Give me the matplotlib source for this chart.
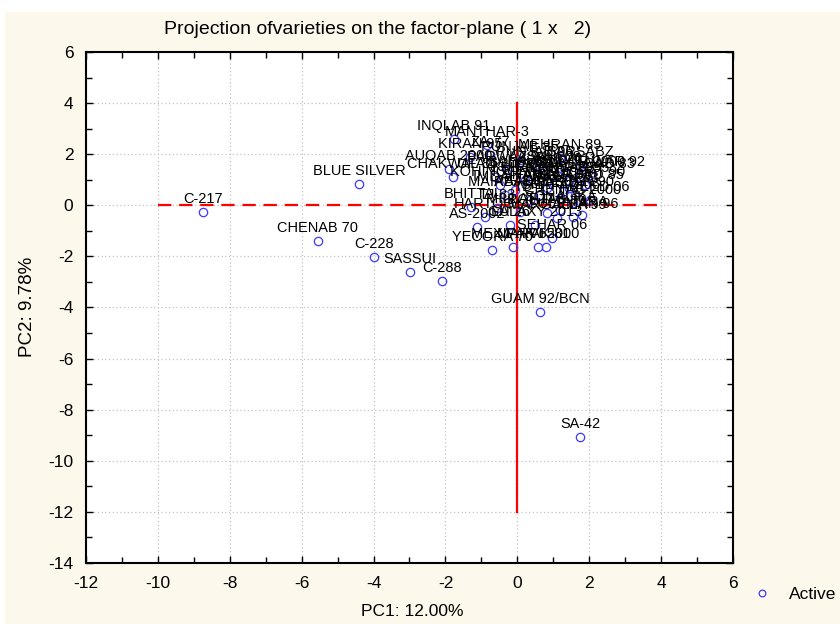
import matplotlib
matplotlib.use("Agg")
import matplotlib.pyplot as plt
from matplotlib import font_manager
from matplotlib.ticker import MultipleLocator

installed = {f.name for f in font_manager.fontManager.ttflist}
narrow = "Liberation Sans Narrow" in installed
if narrow:
    plt.rcParams["font.family"] = ["Liberation Sans Narrow", "DejaVu Sans"]
else:
    plt.rcParams["font.family"] = ["Liberation Sans", "DejaVu Sans"]
plt.rcParams["axes.unicode_minus"] = False

# varieties and their scores on PC1 / PC2
varieties = [
    "C-217", "BLUE SILVER", "CHENAB 70", "C-228", "SASSUI", "C-288",
    "GUAM 92/BCN", "SA-42",
    "INQLAB 91", "KIRAN 95", "AUQAB 2000", "CHAKWAL 86", "ZA-77",
    "MANTHAR-3", "PARWAZ 94", "SHAHKAR 95", "FAISALABAD 85", "BAHAWALPUR 2000",
    "UFAQ 2002", "PASBAN 90", "BHITTAI", "TJ-83", "HARTOG", "AS-2002",
    "LU 26", "SEHAR 06", "YECORA 70", "MEXIPAK 65", "MARVI 2000",
    "PAK 81", "PUNJAB 85", "PUNJAB 96", "MEHRAN 89", "SARSABZ",
    "KHIRMAN", "ABADGAR 93", "SOGHAT 90", "TD-1", "IMDAD 2005",
    "SHAFAQ 06", "FAREED 06", "MAIRAJ 08", "LASANI 08", "AAS 2011",
    "FAISALABAD 83", "MILLAT 11", "GALAXY 2013", "BAKHTAWAR 92",
    "KOHINOOR 83", "ROHTAS 90", "SONALIKA", "CHENAB 2000", "TATARA",
    "SULEMAN 96", "MARGALLA 99", "SHALIMAR 88", "KOHSAR 95", "WATAN 93",
]
pc1 = [
    -8.74, -4.40, -5.55, -3.99, -2.99, -2.09,
    0.63, 1.75,
    -1.76, -1.32, -1.90, -1.79, -0.76,
    -0.84, -0.29, 0.83, 1.44, 1.10,
    -0.62, 1.61, -1.29, -0.56, -0.90, -1.12,
    -0.20, 0.97, -0.70, -0.12, 0.58,
    0.80, 0.08, 0.49, 1.19, 1.75,
    0.22, 0.63, 1.88, 0.35, -0.06,
    1.19, 2.02, -0.34, 0.77, 1.33,
    1.75, 0.08, 0.49, 2.02,
    -0.48, 0.83, 1.19, 1.55, 1.80,
    1.55, 1.10, 0.83, 1.44, 1.30,
]
pc2 = [
    -0.26, 0.83, -1.40, -2.02, -2.61, -2.96,
    -4.18, -9.07,
    2.59, 1.89, 1.42, 1.11, 1.97,
    2.36, 1.38, 0.68, 0.68, 1.19,
    1.11, 0.40, -0.07, -0.11, -0.46, -0.85,
    -0.77, -1.28, -1.75, -1.63, -1.63,
    -1.63, 1.77, 1.58, 1.85, 1.58,
    0.99, 0.40, 0.79, 0.21, 0.60,
    0.29, 0.21, 0.40, 1.38, 1.30,
    1.10, -0.26, -0.77, 1.19,
    0.79, -0.30, -0.18, 0.09, -0.38,
    -0.46, -0.50, 0.95, 0.95, 0.55,
]

cream = "#fdf8ec"
blue = "#3a3aff"
k = 1.0 if narrow else 0.87  # regular Sans is wider than the narrow face

fig = plt.figure(figsize=(8.4, 6.24), dpi=100, facecolor="white")
fig.patches.append(plt.Rectangle((5 / 840, 0), 1, 1 - 12 / 624, transform=fig.transFigure,
                                 facecolor=cream, edgecolor="none", zorder=-10))
ax = fig.add_axes([86 / 840, 1 - 563 / 624, (733 - 86) / 840, (563 - 52) / 624])
ax.set_facecolor("white")

ax.set_xlim(-12, 6)
ax.set_ylim(-14, 6)
ax.xaxis.set_major_locator(MultipleLocator(2))
ax.yaxis.set_major_locator(MultipleLocator(2))
ax.xaxis.set_minor_locator(MultipleLocator(1))
ax.yaxis.set_minor_locator(MultipleLocator(1))
ax.grid(True, which="major", color="#c4c4c4", linestyle=(0, (1, 2)), linewidth=0.9)
ax.tick_params(which="both", direction="in", top=True, right=True, labelsize=12.5)
ax.tick_params(which="major", length=5, width=1, pad=9)
ax.tick_params(which="minor", length=4, width=1)
for s in ax.spines.values():
    s.set_linewidth(1.5)
    s.set_color("black")

ax.plot([-10, 4], [0, 0], color="red", linestyle=(0, (6, 3.5)), linewidth=1.6, zorder=2)
ax.plot([0, 0], [4, -12], color="red", linestyle="-", linewidth=1.6, zorder=2)

pts, = ax.plot(pc1, pc2, linestyle="none", marker="o", markersize=6,
               markerfacecolor="none", markeredgecolor=blue, markeredgewidth=0.9,
               label="Active", zorder=3)
for name, x, y in zip(varieties, pc1, pc2):
    ax.annotate(name, (x, y), xytext=(0, 4.5), textcoords="offset points",
                ha="center", va="bottom", fontsize=12 * k, color="black", zorder=4)

fig.text(378 / 840, 1 - 30 / 624, "Projection ofvarieties on the factor-plane ( 1 x   2)",
         ha="center", va="center", fontsize=14)
fig.text(412 / 840, 1 - 611 / 624, "PC1: 12.00%", ha="center", va="center", fontsize=12.5)
fig.text(28 / 840, 1 - 307 / 624, "PC2: 9.78%", ha="center", va="center",
         rotation=90, fontsize=13.5)
fig.legend(handles=[pts], loc="center left", bbox_to_anchor=(733 / 840, 1 - 594 / 624),
           frameon=False, fontsize=12.5, handlelength=1.5, handletextpad=0.8,
           markerscale=0.8)

fig.savefig("out.png", dpi=100, facecolor=fig.get_facecolor())
